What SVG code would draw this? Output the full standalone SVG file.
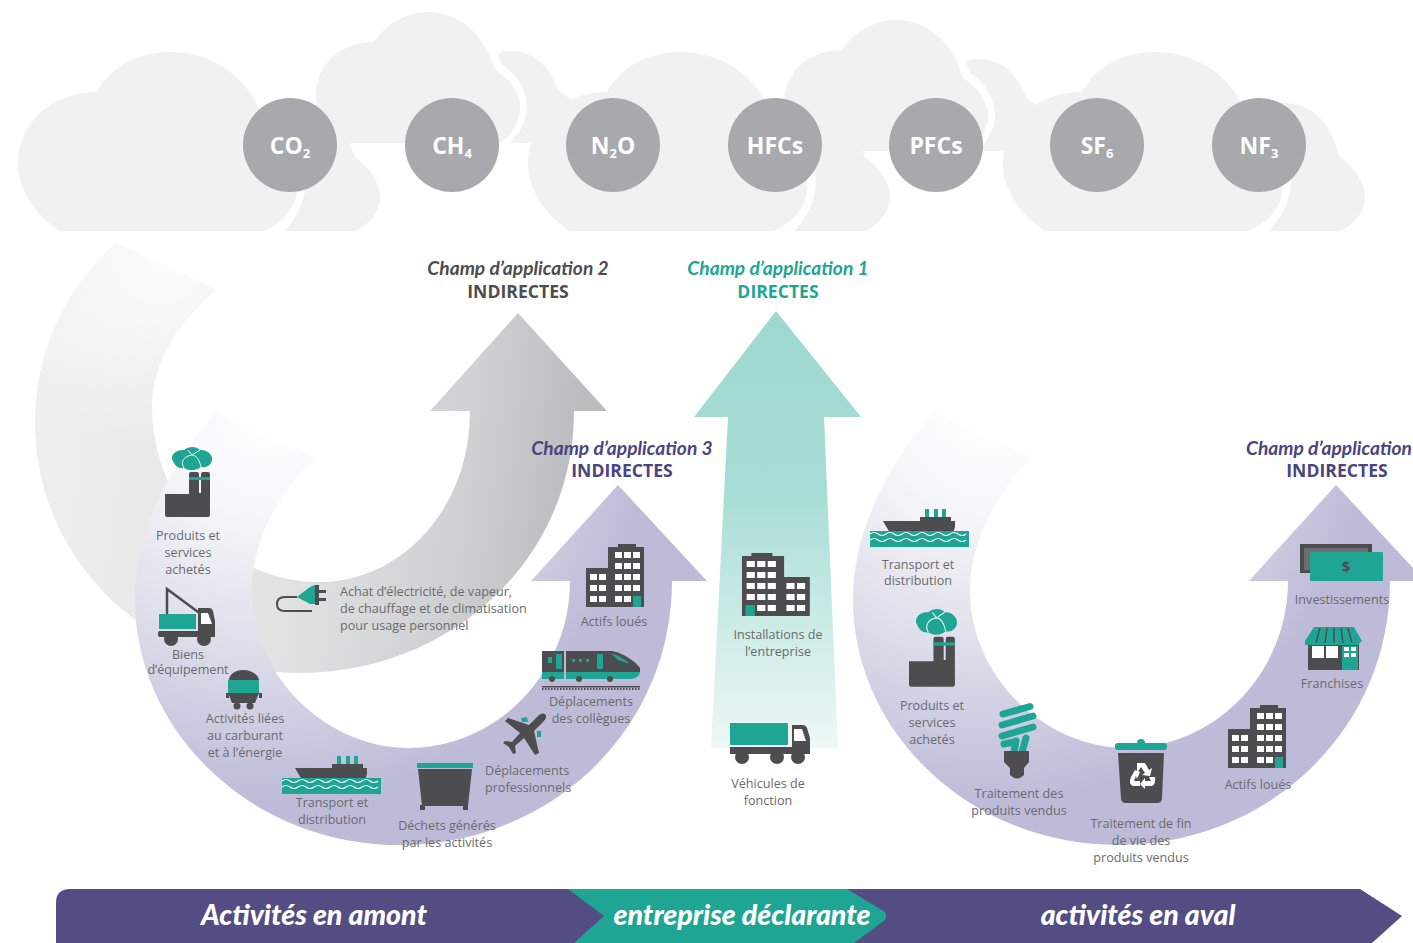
<svg xmlns="http://www.w3.org/2000/svg" width="1413" height="943" viewBox="0 0 1413 943">
<style>
.cl{fill:#f1f1f2}
.gas{fill:#a7a9ac}
.gt{font-family:"Open Sans","Noto Sans",sans-serif;font-weight:700;font-size:23px;fill:#fff;text-anchor:middle}
.gs{font-size:13px}
.t{font-family:"Open Sans","Noto Sans",sans-serif;font-size:12.6px;fill:#6a6b6e;text-anchor:middle}
.s{text-anchor:start}
.h{font-family:Lato,"Open Sans",sans-serif;font-weight:700;font-style:italic;font-size:19.2px;text-anchor:middle}
.k{font-family:"Open Sans",sans-serif;font-weight:700;font-size:17.6px;text-anchor:middle}
.b{font-family:Lato,"Open Sans",sans-serif;font-weight:900;font-style:italic;font-size:28.5px;fill:#fff;text-anchor:middle}
.d{fill:#4d4d4f}
.g{fill:#1fa594}
.w{fill:#fff}
.wv{fill:none;stroke:#fff;stroke-width:1.2}
</style>
<defs>
<linearGradient id="grayG" gradientUnits="userSpaceOnUse" x1="35" y1="400" x2="575" y2="470">
<stop offset="0" stop-color="#efefef"/><stop offset=".5" stop-color="#e1e2e2"/><stop offset=".8" stop-color="#cfd0d1"/><stop offset="1" stop-color="#bbbcbd"/>
</linearGradient>
<radialGradient id="tailFade" gradientUnits="userSpaceOnUse" cx="165" cy="260" r="190">
<stop offset="0" stop-color="#fff" stop-opacity=".9"/><stop offset="1" stop-color="#fff" stop-opacity="0"/>
</radialGradient>
<radialGradient id="purA" gradientUnits="userSpaceOnUse" cx="265" cy="420" r="450">
<stop offset="0" stop-color="#ffffff"/><stop offset=".2" stop-color="#f7f7fa"/><stop offset=".5" stop-color="#dfdeeb"/><stop offset=".85" stop-color="#bdbbd7"/>
</radialGradient>
<linearGradient id="tealG" x1="0" y1="0" x2="0" y2="1">
<stop offset="0" stop-color="#9dd9d1"/><stop offset=".4" stop-color="#a6dcd5"/><stop offset=".65" stop-color="#c4e8e3"/><stop offset="1" stop-color="#eef8f6"/>
</linearGradient>
<path id="swoosh" d="M216,412 L315,458 C280,490 252,540 252,590 C252,680 330,748 408,748 C500,748 570,670 570,581 L531,581 L618,485 L707,581 L672,581 C672,730 550,845 400,845 C250,845 135,730 135,600 C135,530 170,465 216,412 Z"/>
<path id="scope2" d="M116,243 L216,290 C175,325 152,365 152,407 C152,500 225,582 320,582 C400,582 470,510 470,411 L430,411 L518,313 L607,411 L574,411 C574,560 450,673 300,673 C150,673 35,560 35,423 C35,345 70,285 116,243 Z"/>
<g id="backCloud">
<path class="cl" d="M499,58 Q497,50 510,51 C535,50 552,70 558,90 L572,100 L585,143 L510,143 C522,130 527,118 527,107 C527,90 515,72 503,66 Z"/>
<path class="cl" d="M316,143 L316,95 C316,65 340,42 374,42 C385,25 405,12 428,12 C460,12 485,35 495,70 C512,80 520,95 520,107 C520,125 510,135 500,143 Z"/>
</g>
<g id="frontCloud">
<path class="cl" d="M285,231 C298,215 306,200 306,178 L292,103 C320,101 340,115 350,143 Q352,150 355,157 C370,168 380,182 380,197 C380,212 370,224 355,231 Z"/>
<path class="cl" d="M60,231 C35,215 18,190 18,163 C18,125 50,92 97,92 C112,65 140,52 170,52 C215,52 250,80 261,115 C285,130 297,165 297,190 C297,205 285,222 263,231 Z"/>
</g>
<g id="factory">
<path class="g" d="M8,14 C4,8 12,2 19,3 C24,-1 31,-1 35,3 C42,2 48,8 47,13 C46,19 40,21 36,20 C31,24 23,24 19,21 C14,22 10,19 8,14 Z"/>
<path fill="none" stroke="#e6f5f3" stroke-width="1" d="M19,21 C15,15 19,9 27,8 C31,8 34,12 36,20 M27,8 L23,3 M27,8 L35,3"/>
<path class="d" d="M0,47 L24,47 L24,27 Q24,25 26,25 L32,25 Q34,25 34,27 L34,46 L36,46 L36,27 Q36,25 38,25 L43,25 Q45,25 45,27 L45,68 Q45,70 43,70 L2,70 Q0,70 0,68 Z"/>
<rect class="g" x="24" y="30" width="21" height="3"/>
</g>
<g id="building">
<rect class="d" x="33" y="0" width="18" height="4"/>
<rect class="d" x="23" y="3" width="36" height="60"/>
<rect class="d" x="1" y="24" width="23" height="39"/>
<g class="w">
<rect x="30" y="8" width="7" height="6"/><rect x="39" y="8" width="7" height="6"/><rect x="48" y="8" width="7" height="6"/>
<rect x="30" y="19" width="7" height="6"/><rect x="39" y="19" width="7" height="6"/><rect x="48" y="19" width="7" height="6"/>
<rect x="30" y="30" width="7" height="6"/><rect x="39" y="30" width="7" height="6"/><rect x="48" y="30" width="7" height="6"/>
<rect x="30" y="41" width="7" height="6"/><rect x="39" y="41" width="7" height="6"/><rect x="48" y="41" width="7" height="6"/>
<rect x="30" y="52" width="7" height="6"/><rect x="39" y="52" width="7" height="6"/>
<rect x="5" y="30" width="7" height="6"/><rect x="14" y="30" width="7" height="6"/>
<rect x="5" y="41" width="7" height="6"/><rect x="14" y="41" width="7" height="6"/>
<rect x="5" y="52" width="7" height="6"/><rect x="14" y="52" width="7" height="6"/>
</g>
<rect class="g" x="48" y="52" width="8" height="11"/>
</g>
<g id="ship">
<rect class="g" x="55" y="0" width="4" height="9"/><rect class="g" x="64" y="0" width="4" height="9"/><rect class="g" x="72" y="0" width="4" height="9"/>
<rect class="d" x="50" y="8" width="31" height="5"/>
<path class="d" d="M13,12 L85,12 L85,18 L83,24 L20,24 Z"/>
<rect class="g" x="0" y="22" width="99" height="16"/>
<path class="wv" d="M0,25 q4,-3 8,0 t8,0 t8,0 t8,0 t8,0 t8,0 t8,0 t8,0 t8,0 t8,0 t8,0 t8,0 M0,31 q4,-3 8,0 t8,0 t8,0 t8,0 t8,0 t8,0 t8,0 t8,0 t8,0 t8,0 t8,0 t8,0"/>
</g>
</defs>

<g id="clouds">
<use href="#backCloud"/>
<use href="#backCloud" x="468" y="8"/>
<use href="#frontCloud"/>
<use href="#frontCloud" x="510"/>
<use href="#frontCloud" x="985"/>
</g>

<g id="gas-co2"><circle class="gas" cx="290" cy="145" r="47"/><text class="gt" x="290" y="154">CO<tspan class="gs" dy="4">2</tspan></text></g>
<g id="gas-ch4"><circle class="gas" cx="452" cy="145" r="47"/><text class="gt" x="452" y="154">CH<tspan class="gs" dy="4">4</tspan></text></g>
<g id="gas-n2o"><circle class="gas" cx="613" cy="145" r="47"/><text class="gt" x="613" y="154">N<tspan class="gs" dy="4">2</tspan><tspan dy="-4">O</tspan></text></g>
<g id="gas-hfcs"><circle class="gas" cx="775" cy="145" r="47"/><text class="gt" x="775" y="154">HFCs</text></g>
<g id="gas-pfcs"><circle class="gas" cx="936" cy="145" r="47"/><text class="gt" x="936" y="154">PFCs</text></g>
<g id="gas-sf6"><circle class="gas" cx="1097" cy="145" r="47"/><text class="gt" x="1097" y="154">SF<tspan class="gs" dy="4">6</tspan></text></g>
<g id="gas-nf3"><circle class="gas" cx="1259" cy="145" r="47"/><text class="gt" x="1259" y="154">NF<tspan class="gs" dy="4">3</tspan></text></g>

<g id="connectors">
<use id="arrow-scope2" href="#scope2" fill="url(#grayG)"/>
<use href="#scope2" fill="url(#tailFade)"/>
<use id="arrow-scope3-up" href="#swoosh" fill="url(#purA)"/>
<path id="arrow-scope1" fill="url(#tealG)" d="M776,311 L861,417 L824,417 L838,748 L711,748 L728,417 L694,417 Z"/>
<use id="arrow-scope3-down" href="#swoosh" x="718" fill="url(#purA)"/>
</g>

<g id="title-scope2"><text class="h" x="518" y="275" fill="#4d4d4f">Champ d’application 2</text><text class="k" x="518" y="298" fill="#4d4d4f">INDIRECTES</text></g>
<g id="title-scope1"><text class="h" x="778" y="275" fill="#1fa594">Champ d’application 1</text><text class="k" x="778" y="298" fill="#1fa594">DIRECTES</text></g>
<g id="title-scope3a"><text class="h" x="622" y="455" fill="#4a4480">Champ d’application 3</text><text class="k" x="622" y="477" fill="#4a4480">INDIRECTES</text></g>
<g id="title-scope3b"><text class="h" style="text-anchor:start" x="1246" y="455" fill="#4a4480">Champ d’application 3</text><text class="k" x="1337" y="477" fill="#4a4480">INDIRECTES</text></g>

<g id="node-produits-amont">
<use href="#factory" x="165" y="447"/>
<text class="t" x="188" y="540">Produits et</text><text class="t" x="188" y="557">services</text><text class="t" x="188" y="574">achetés</text>
</g>
<g id="node-biens">
<path fill="none" stroke="#4d4d4f" stroke-width="2.5" stroke-linecap="round" d="M167,613 L167,589 L198,612"/>
<rect class="g" x="159" y="614" width="37" height="15"/>
<path class="d" d="M198,608 L209,608 Q212,608 213,611 L215,621 L215,637 L159,637 Q157,634 159,631 L198,631 Z"/>
<path class="w" d="M201,613 L208,613 L212,624 L201,624 Z"/>
<circle class="d" cx="171" cy="639" r="7"/><circle class="d" cx="204" cy="639" r="7"/>
<text class="t" x="188" y="659">Biens</text><text class="t" x="188" y="674">d’équipement</text>
</g>
<g id="node-carburant">
<path class="d" d="M229,680 C229,674 236,670 243,670 C251,670 258,674 259,680 Z"/>
<rect class="g" x="228" y="680" width="31" height="13"/>
<path class="d" d="M228,693 L259,693 L255,703 L232,703 Z"/>
<rect class="d" x="226" y="693" width="3" height="5"/><rect class="d" x="259" y="693" width="3" height="5"/>
<circle class="d" cx="237" cy="706" r="3.5"/><circle class="d" cx="250" cy="706" r="3.5"/>
<text class="t" x="245" y="723">Activités liées</text><text class="t" x="245" y="740">au carburant</text><text class="t" x="245" y="757">et à l’énergie</text>
</g>
<g id="node-transport-amont">
<use href="#ship" x="282" y="756"/>
<text class="t" x="332" y="807">Transport et</text><text class="t" x="332" y="824">distribution</text>
</g>
<g id="node-dechets">
<rect class="g" x="417" y="763" width="56" height="5"/>
<path class="d" d="M418,769 L472,769 L468,806 L422,806 Z"/>
<rect class="d" x="420" y="805" width="5" height="5"/><rect class="d" x="463" y="805" width="5" height="5"/>
<text class="t" x="447" y="830">Déchets générés</text><text class="t" x="447" y="847">par les activités</text>
</g>
<g id="node-deplacements-pro">
<path class="g" d="M521,718 L527,717 L528,722 L522,722 Z M537,731 L541,731 L541,737 L537,737 Z"/>
<path class="d" d="M545,714 C547,716 546,719 543,722 L534,731 L539,753 L535,755 L524,738 L515,746 L516,753 L513,754 L509,747 L503,743 L505,741 L512,742 L520,733 L505,721 L508,718 L529,725 L538,716 C541,713 543,713 545,714 Z"/>
<text class="t s" x="485" y="775">Déplacements</text><text class="t s" x="485" y="792">professionnels</text>
</g>
<g id="node-deplacements-coll">
<rect class="d" x="542" y="651" width="22" height="21"/>
<path class="d" d="M566,651 L612,651 C625,654 636,662 640,668 L640,672 L566,672 Z"/>
<path class="g" d="M542,672 L564,672 L564,679 L542,679 Z M566,672 L640,672 C639,677 635,679 630,679 L566,679 Z"/>
<path class="g" d="M548,657 h4 v6 h-4 Z M556,654 h6 v15 h-6 Z M572,659 h3 v3 h-3 Z M579,659 h3 v3 h-3 Z M586,659 h3 v3 h-3 Z M597,654 h6 v15 h-6 Z M611,653 C620,656 626,660 630,664 L618,660 Z"/>
<circle class="d" cx="552" cy="679" r="3"/><circle class="d" cx="579" cy="679" r="3"/><circle class="d" cx="610" cy="679" r="3"/>
<rect class="d" x="542" y="686" width="98" height="1.5"/><path stroke="#4d4d4f" stroke-width="2" stroke-dasharray="1.5 1.5" d="M542,689 H640"/>
<text class="t" x="591" y="706">Déplacements</text><text class="t" x="591" y="723">des collègues</text>
</g>
<g id="node-actifs-amont">
<use href="#building" x="585" y="544"/>
<text class="t" x="614" y="626">Actifs loués</text>
</g>
<g id="node-electricite">
<path fill="none" stroke="#4d4d4f" stroke-width="2" d="M297,597 H285 Q277,597 277,604 Q277,611 285,611 H312"/>
<path class="g" d="M297,597 L310,587 L315,585 L315,604 L310,604 Z"/>
<path class="d" d="M315,585 h4 v5 h7 v3 h-7 v5 h7 v3 h-7 v4 h-4 Z"/>
<text class="t s" x="340" y="596">Achat d’électricité, de vapeur,</text><text class="t s" x="340" y="613">de chauffage et de climatisation</text><text class="t s" x="340" y="630">pour usage personnel</text>
</g>
<g id="node-installations">
<use href="#building" transform="translate(811,553) scale(-1.17,1)"/>
<text class="t" x="778" y="639">Installations de</text><text class="t" x="778" y="656">l’entreprise</text>
</g>
<g id="node-vehicules">
<rect class="g" x="730" y="723" width="58" height="22" rx="1"/>
<path class="d" d="M792,725 L802,725 Q806,725 807,728 L810,738 L810,754 L730,754 L730,747 L792,747 Z"/>
<path class="w" d="M794,729 L802,729 L806,741 L794,741 Z"/>
<circle class="d" cx="742" cy="757" r="7"/><circle class="d" cx="777" cy="757" r="7"/><circle class="d" cx="798" cy="757" r="7"/>
<text class="t" x="768" y="788">Véhicules de</text><text class="t" x="768" y="805">fonction</text>
</g>
<g id="node-transport-aval">
<use href="#ship" x="870" y="509"/>
<text class="t" x="918" y="569">Transport et</text><text class="t" x="918" y="585">distribution</text>
</g>
<g id="node-produits-aval">
<use href="#factory" transform="translate(909,609) scale(1.02,1.11)"/>
<text class="t" x="932" y="710">Produits et</text><text class="t" x="932" y="727">services</text><text class="t" x="932" y="744">achetés</text>
</g>
<g id="node-traitement">
<g fill="none" stroke="#1fa594" stroke-width="7" stroke-linecap="round">
<path d="M1003,714 L1030,706.500"/><path d="M1002,725 L1033,716"/><path d="M1002,736 L1033,727"/>
<path d="M1004,744 L1014,742 M1022,752 L1026,738 M1014,752 L1016,741"/>
</g>
<path class="d" d="M1004,751 L1029,751 L1029,762 L1024,768 L1024,775 Q1017,782 1010,775 L1010,768 L1004,762 Z"/>
<text class="t" x="1019" y="798">Traitement des</text><text class="t" x="1019" y="815">produits vendus</text>
</g>
<g id="node-fin-de-vie">
<circle class="g" cx="1141" cy="743" r="4"/>
<rect class="g" x="1115" y="743" width="52" height="7" rx="3"/>
<path class="d" d="M1118,753 L1164,753 L1162,798 Q1162,803 1157,803 L1126,803 Q1121,803 1121,798 Z"/>
<path class="w" d="M1137,763 L1145,763 L1149,770 L1152,768 L1150,776 L1142,775 L1145,773 L1141,767 L1137,773 Z M1131,777 L1135,770 L1132,769 L1140,772 L1137,779 L1136,776 L1134,781 L1140,781 L1140,786 L1133,786 Q1128,784 1131,777 Z M1145,781 L1151,781 L1149,777 L1155,777 Q1156,784 1152,786 L1145,786 L1145,789 L1140,784 L1145,778 Z"/>
<text class="t" x="1141" y="828">Traitement de fin</text><text class="t" x="1141" y="845">de vie des</text><text class="t" x="1141" y="862">produits vendus</text>
</g>
<g id="node-actifs-aval">
<use href="#building" x="1227" y="705"/>
<text class="t" x="1258" y="789">Actifs loués</text>
</g>
<g id="node-franchises">
<rect class="d" x="1308" y="643" width="51" height="27"/>
<path class="g" d="M1314,627 L1354,627 L1362,641 L1358,645 L1305,645 L1305,641 Z"/>
<path stroke="#4d4d4f" stroke-width="1.500" d="M1320,628 L1316,643 M1327,628 L1325,643 M1334,628 L1334,643 M1341,628 L1343,643 M1348,628 L1352,643"/>
<rect class="w" x="1312" y="646" width="12" height="12"/><rect class="w" x="1326" y="646" width="12" height="12"/>
<rect class="g" x="1342" y="646" width="16" height="24"/>
<path class="w" d="M1344,647 h5 v4 h-5 Z M1351,647 h5 v4 h-5 Z M1344,653 h5 v4 h-5 Z M1351,653 h5 v4 h-5 Z"/>
<text class="t" x="1332" y="688">Franchises</text>
</g>
<g id="node-investissements">
<rect class="d" x="1300" y="544" width="72" height="29"/>
<rect fill="#6d6e71" x="1304" y="548" width="64" height="22"/>
<rect class="g" x="1310" y="552" width="73" height="29" rx="1"/>
<text x="1346" y="572" font-family="Open Sans,sans-serif" font-size="15" font-weight="700" fill="#4d4d4f" text-anchor="middle">$</text>
<text class="t" x="1342" y="604">Investissements</text>
</g>

<g id="bottom-bar">
<path fill="#534d84" d="M70,889 L1360,889 L1402,916 L1372,943 L56,943 L56,903 Q56,889 70,889 Z"/>
<path fill="#1fa594" d="M568,889 L847,889 L885,912 Q887,916 885,920 L854,943 L574,943 L604,916 Z"/>
<text class="b" x="314" y="925">Activités en amont</text>
<text class="b" x="742" y="925">entreprise déclarante</text>
<text class="b" x="1138" y="925">activités en aval</text>
</g>
</svg>
